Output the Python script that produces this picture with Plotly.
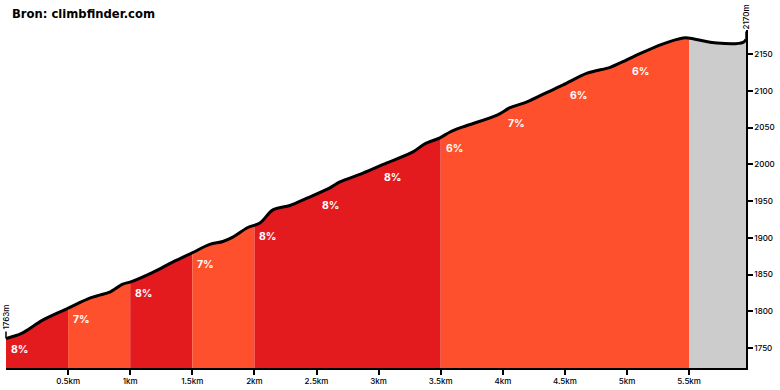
import numpy as np
import plotly.graph_objects as go

# ---- data ----
distance_km = [0.0, 0.126, 0.295, 0.497, 0.674, 0.755, 0.835, 0.940, 1.004, 1.182,
               1.342, 1.504, 1.641, 1.746, 1.826, 1.947, 2.044, 2.149, 2.286, 2.423,
               2.608, 2.688, 2.874, 3.067, 3.277, 3.373, 3.494, 3.575, 3.680, 3.954,
               4.058, 4.195, 4.357, 4.486, 4.679, 4.864, 4.945, 5.082, 5.291, 5.452,
               5.493, 5.726, 5.935, 5.958]
elevation_m = [1763, 1770, 1788, 1804, 1818, 1822, 1826, 1837, 1840, 1853,
               1867, 1880, 1891, 1895, 1901, 1914, 1920, 1938, 1944, 1954,
               1968, 1976, 1988, 2002, 2017, 2028, 2036, 2044, 2051, 2067,
               2077, 2085, 2098, 2108, 2124, 2132, 2138, 2149, 2164, 2172,
               2172, 2165, 2166, 2170]
segment_edges_km = [0.0, 0.5, 1.0, 1.5, 2.0, 2.5, 3.0, 3.5, 4.0, 4.5, 5.0, 5.5, 5.958]
segment_grades = ["8%", "7%", "8%", "7%", "8%", "8%", "8%", "6%", "7%", "6%", "6%", ""]
segment_colors = ["#e31b1f", "#ff502d", "#e31b1f", "#ff502d", "#e31b1f", "#e31b1f",
                  "#e31b1f", "#ff502d", "#ff502d", "#ff502d", "#ff502d", "#cccccc"]
x_tick_vals = [0.5, 1, 1.5, 2, 2.5, 3, 3.5, 4, 4.5, 5, 5.5]
x_tick_text = ["0.5km", "1km", "1.5km", "2km", "2.5km", "3km", "3.5km", "4km", "4.5km", "5km", "5.5km"]
y_tick_vals = [1750, 1800, 1850, 1900, 1950, 2000, 2050, 2100, 2150]
start_label = "1763m"
end_label = "2170m"
title_text = "Bron: climbfinder.com"

d = np.array(distance_km)
e = np.array(elevation_m, dtype=float)

fig = go.Figure()

# group consecutive segments with the same colour into one filled area
runs = []
for i, c in enumerate(segment_colors):
    if runs and runs[-1][2] == c:
        runs[-1][1] = segment_edges_km[i + 1]
    else:
        runs.append([segment_edges_km[i], segment_edges_km[i + 1], c])

for a, b, c in runs:
    inner = (d > a) & (d < b)
    xs = np.concatenate([[a], d[inner], [b]])
    ys = np.concatenate([[np.interp(a, d, e)], e[inner], [np.interp(b, d, e)]])
    fig.add_trace(go.Scatter(x=xs, y=ys, mode="lines", fill="tozeroy", fillcolor=c,
                             line=dict(width=0, color=c, shape="spline", smoothing=0.9),
                             hoverinfo="skip", showlegend=False))

for i, g in enumerate(segment_grades):
    if g:
        a = segment_edges_km[i]
        fig.add_annotation(x=a, y=np.interp(a, d, e), text=g,
                           showarrow=False, xanchor="left", yanchor="top",
                           xshift=3, yshift=-3,
                           font=dict(family="Inter", size=10.5, color="white", weight="bold"))

fig.add_trace(go.Scatter(x=d, y=e, mode="lines",
                         line=dict(width=3, color="black", shape="spline", smoothing=0.9),
                         hoverinfo="skip", showlegend=False))

lab_font = dict(family="Inter", size=8, color="black", weight=500)
fig.add_annotation(x=d[0], y=e[0], text=start_label, textangle=-90, showarrow=True,
                   arrowhead=0, arrowwidth=1.5, arrowcolor="black", ax=0, ay=-21,
                   font=lab_font)
fig.add_annotation(x=d[-1], y=e[-1], text=end_label, textangle=-90, showarrow=True,
                   arrowhead=0, arrowwidth=1.5, arrowcolor="black", ax=0, ay=-22,
                   font=lab_font)

fig.add_annotation(xref="paper", yref="paper", x=0, y=1, xshift=4, yshift=16,
                   xanchor="left", yanchor="middle", text=title_text, showarrow=False,
                   font=dict(family="DejaVu Sans", size=11.6, color="black", weight="bold"))

tick_font = dict(family="Inter", size=8, color="black", weight=500)
fig.update_layout(
    width=780, height=390,
    margin=dict(l=6, r=34, t=30, b=22, autoexpand=False),
    plot_bgcolor="white", paper_bgcolor="white",
    xaxis=dict(range=[0, segment_edges_km[-1]], tickvals=x_tick_vals, ticktext=x_tick_text,
               showgrid=False, zeroline=False, showline=True, linecolor="black", linewidth=1.5,
               ticks="outside", ticklen=5, tickwidth=1.5, tickcolor="black",
               tickfont=tick_font, automargin=False),
    yaxis=dict(range=[1722.8, 2182.8], tickvals=y_tick_vals, ticksuffix="m", side="right",
               showgrid=False, zeroline=False, showline=True, linecolor="black", linewidth=1.5,
               ticks="outside", ticklen=5, tickwidth=1.5, tickcolor="black",
               tickfont=tick_font, automargin=False),
)

fig.write_html("out.html", config={"displayModeBar": False},
               post_script="document.body.style.margin='0';document.body.style.overflow='hidden';")
